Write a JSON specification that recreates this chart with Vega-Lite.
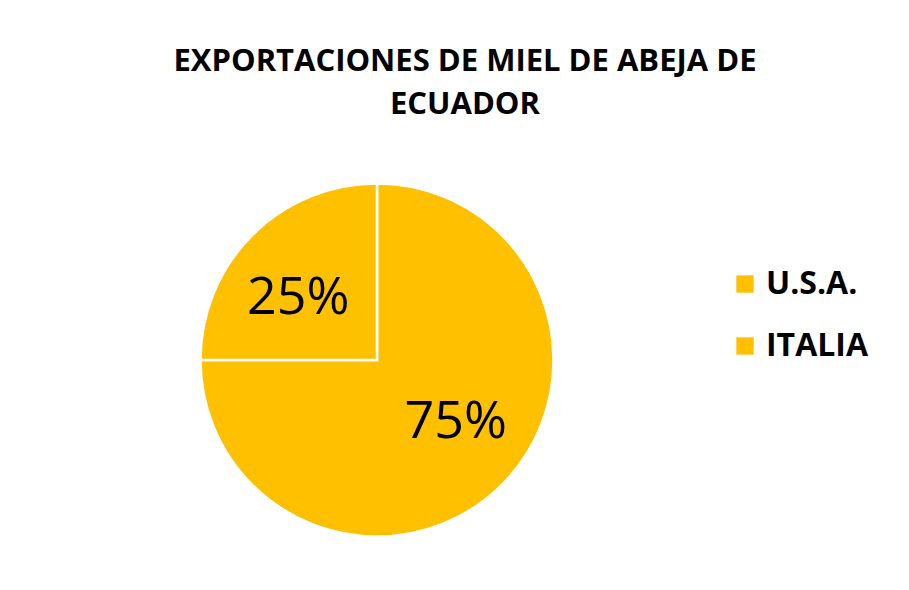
{
  "$schema": "https://vega.github.io/schema/vega-lite/v6.json",
  "width": 600,
  "height": 440,
  "autosize": {"type": "none"},
  "padding": {"left": 77, "top": 140, "right": 232, "bottom": 10},
  "background": "white",
  "config": {"view": {"stroke": null}},
  "title": {
    "text": ["EXPORTACIONES DE MIEL DE ABEJA DE", "ECUADOR"],
    "font": "Open Sans",
    "fontSize": 31,
    "fontWeight": "bold",
    "color": "#000000",
    "lineHeight": 43,
    "anchor": "middle",
    "dx": 88,
    "offset": 19
  },
  "data": {
    "values": [
      {"pais": "U.S.A.", "share": 0.75, "orden": 1},
      {"pais": "ITALIA", "share": 0.25, "orden": 2}
    ]
  },
  "resolve": {"scale": {"theta": "independent"}},
  "layer": [
    {
      "mark": {"type": "arc", "outerRadius": 176.5, "stroke": "white", "strokeWidth": 2.5, "opacity": 1},
      "encoding": {
        "theta": {"field": "share", "type": "quantitative", "stack": true},
        "order": {"field": "orden", "type": "quantitative"},
        "color": {
          "field": "pais",
          "type": "nominal",
          "scale": {"domain": ["U.S.A.", "ITALIA"], "range": ["#FFC000", "#FFC000"]},
          "legend": {
            "orient": "none",
            "legendX": 652,
            "legendY": 128,
            "title": null,
            "symbolType": "square",
            "symbolSize": 300,
            "symbolStrokeWidth": 0,
            "symbolOpacity": 1,
            "labelFont": "Open Sans",
            "labelFontSize": 32,
            "labelFontWeight": "bold",
            "labelColor": "#000000",
            "labelOffset": 5,
            "rowPadding": 30
          }
        }
      }
    },
    {
      "mark": {"type": "text", "radius": 100, "font": "Open Sans", "fontSize": 52, "color": "#000000"},
      "encoding": {
        "theta": {"field": "share", "type": "quantitative", "stack": true, "scale": {"range": [-0.12, 6.1632]}},
        "order": {"field": "orden", "type": "quantitative"},
        "text": {"field": "share", "type": "quantitative", "format": ".0%"}
      }
    }
  ]
}
